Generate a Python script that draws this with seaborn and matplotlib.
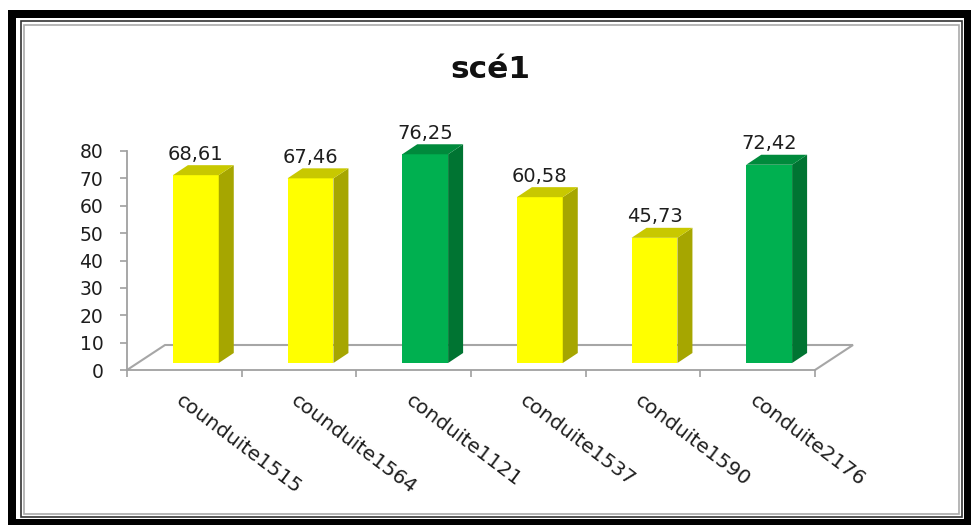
import matplotlib
matplotlib.use("Agg")
import matplotlib.pyplot as plt
from matplotlib.patches import Polygon, Rectangle
import seaborn as sns

# Chart data
categories = ["counduite1515", "counduite1564", "conduite1121",
              "conduite1537", "conduite1590", "conduite2176"]
values = [68.61, 67.46, 76.25, 60.58, 45.73, 72.42]
classes = ["moyen", "moyen", "bon", "moyen", "moyen", "bon"]
y_ticks = [0, 10, 20, 30, 40, 50, 60, 70, 80]
title = "scé1"

# Face colours of the pseudo-3D columns
front_col = {"moyen": "#FFFF00", "bon": "#00B050"}
side_col = {"moyen": "#A6A600", "bon": "#007432"}
top_col = {"moyen": "#C8C800", "bon": "#008A3C"}
floor_col = "#A6A6A6"
axis_col = "#A0A0A0"
text_col = "#1E1E1E"

sns.set_style("white")
plt.rcParams["font.family"] = ["DejaVu Sans"]

W, H = 971, 525
fig = plt.figure(figsize=(W / 100, H / 100), dpi=100)
fig.patch.set_facecolor("white")

# plot area in pixel terms: x -0.5..5.5 -> 127..815, y 0..80 -> 370..151
ax = fig.add_axes([127 / W, 1 - 370 / H, 688 / W, 219 / H])
ax.set_facecolor("none")

sns.barplot(x=categories, y=values, hue=classes, palette=front_col,
            dodge=False, width=0.4, saturation=1, legend=False,
            linewidth=0, ax=ax, zorder=3)

ax.set_xlim(-0.5, 5.5)
ax.set_ylim(0, 80)

px_x = 688 / 6.0       # pixels per category
px_y = 219 / 80.0      # pixels per value unit

# depth offsets, in data units
bx, by = 11.5 / px_x, 7 / px_y      # column front face pushed into the floor
sx, sy = 15 / px_x, 10 / px_y       # column depth
fx, fy = 38 / px_x, 25 / px_y       # floor depth

# floor outline
x0f, x1f = -0.5, 5.5
ax.plot([x0f, x0f + fx, x1f + fx, x1f], [0, fy, fy, 0],
        color=floor_col, lw=1.5, clip_on=False, zorder=1,
        solid_joinstyle="miter")

# shift the front faces and add side / top faces
for p in list(ax.patches):
    w, h = p.get_width(), p.get_height()
    idx = int(round(p.get_x() + w / 2))
    cls = classes[idx]
    p.set_x(p.get_x() + bx)
    p.set_y(p.get_y() + by)
    xa, ya = p.get_x(), p.get_y()
    xb, yb = xa + w, ya + h
    ax.add_patch(Polygon([(xb, ya), (xb + sx, ya + sy), (xb + sx, yb + sy), (xb, yb)],
                         closed=True, facecolor=side_col[cls], edgecolor="none",
                         clip_on=False, zorder=3))
    ax.add_patch(Polygon([(xa, yb), (xa + sx, yb + sy), (xb + sx, yb + sy), (xb, yb)],
                         closed=True, facecolor=top_col[cls], edgecolor="none",
                         clip_on=False, zorder=3))
    p.set_clip_on(False)

# value labels above each column
for i, v in enumerate(values):
    ax.text(i + bx, v + by + sy + 2.0, f"{v:.2f}".replace(".", ","),
            ha="center", va="baseline", fontsize=14, color=text_col,
            clip_on=False, zorder=4)

# axes styling
for s in ["top", "right"]:
    ax.spines[s].set_visible(False)
for s in ["left", "bottom"]:
    ax.spines[s].set_color(axis_col)
    ax.spines[s].set_linewidth(1.3)

ax.set_yticks(y_ticks)
ax.set_yticklabels([str(t) for t in y_ticks])
ax.tick_params(axis="y", left=True, direction="out", length=5, width=1.2,
               color=axis_col, pad=12, labelsize=13.5, labelcolor=text_col)

ax.set_xticks(range(len(categories)))
ax.set_xticklabels(categories, rotation=-37, ha="left", va="top",
                   rotation_mode="anchor", fontsize=14.5, color=text_col)
ax.set_xticks([i - 0.5 for i in range(len(categories) + 1)], minor=True)
ax.tick_params(axis="x", which="major", bottom=True, length=0, pad=15)
ax.tick_params(axis="x", which="minor", bottom=True, direction="out",
               length=5, width=1.2, color=axis_col)
ax.set_xlabel("")
ax.set_ylabel("")

# title
fig.text(490 / W, 1 - 78 / H, title, ha="center", va="baseline",
         fontsize=22.5, fontweight="bold", color="#111111")


def frame(x0, y0, x1, y1, lw, color):
    fig.add_artist(Rectangle((x0 / W, 1 - y1 / H), (x1 - x0) / W, (y1 - y0) / H,
                             transform=fig.transFigure, fill=False,
                             edgecolor=color, linewidth=lw, zorder=10,
                             joinstyle="miter"))


# outer thick border and inner double border
frame(12, 14, 968, 523, 8 * 0.72, "black")
frame(20.5, 21, 962, 517, 1.2, "#333333")
frame(24, 24.5, 958.5, 514, 1.2, "#AAAAAA")

fig.savefig("out.png", dpi=100, facecolor="white")
